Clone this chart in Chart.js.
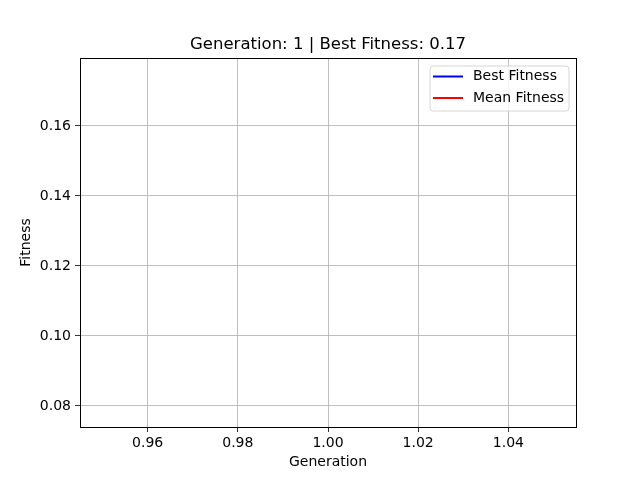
<!DOCTYPE html>
<html>
<head>
<meta charset="utf-8">
<script src="https://cdn.jsdelivr.net/npm/chart.js@4"></script>
<style>
  html, body { margin: 0; padding: 0; background: #fff; }
  #wrap { width: 640px; height: 480px; }
</style>
</head>
<body>
<div id="wrap"><canvas id="chart" width="640" height="480"></canvas></div>
<script>
// Data
const generations = [1];
const bestFitness = [0.1746];
const meanFitness = [0.0788];
const xTicks = [0.96, 0.98, 1.00, 1.02, 1.04];
const yTicks = [0.08, 0.10, 0.12, 0.14, 0.16];
const seriesLabels = ['Best Fitness', 'Mean Fitness'];
const seriesColors = ['#0000ff', '#ff0000'];

const FONT = "'DejaVu Sans', sans-serif";
const titleText = 'Generation: ' + generations[generations.length - 1] +
    ' | Best Fitness: ' + Math.max(...bestFitness).toFixed(2);

// Title over plot area, frame around it, legend box (matplotlib style)
const framePlugin = {
    id: 'frame',
    afterDraw(chart) {
        const { ctx, chartArea: a } = chart;
        ctx.save();
        ctx.strokeStyle = '#000';
        ctx.lineWidth = 1;
        ctx.strokeRect(Math.round(a.left) + 0.5, Math.round(a.top) + 0.5,
            Math.round(a.right - a.left), Math.round(a.bottom - a.top));

        // title
        ctx.fillStyle = '#000';
        ctx.font = '16.5px ' + FONT;
        ctx.textAlign = 'center';
        ctx.textBaseline = 'middle';
        ctx.fillText(titleText, (a.left + a.right) / 2, a.top - 13);

        // legend
        const w = 139, h = 45;
        const x = a.right - 7 - w, y = a.top + 8;
        ctx.globalAlpha = 0.8;
        ctx.fillStyle = '#fff';
        ctx.beginPath();
        ctx.roundRect(x, y, w, h, 3);
        ctx.fill();
        ctx.globalAlpha = 1;
        ctx.strokeStyle = '#d6d6d6';
        ctx.stroke();
        ctx.font = '14px ' + FONT;
        ctx.textAlign = 'left';
        ctx.fillStyle = '#000';
        seriesLabels.forEach((lbl, i) => {
            const ly = y + 10.5 + i * 21.5;
            ctx.strokeStyle = seriesColors[i];
            ctx.lineWidth = 2;
            ctx.beginPath();
            ctx.moveTo(x + 3, ly);
            ctx.lineTo(x + 33, ly);
            ctx.stroke();
            ctx.fillText(lbl, x + 43, ly);
        });
        ctx.restore();
    }
};

const toPoints = (ys) => generations.map((g, i) => ({ x: g, y: ys[i] }));

new Chart(document.getElementById('chart'), {
    type: 'line',
    data: {
        datasets: [{
            label: seriesLabels[0],
            data: toPoints(bestFitness),
            borderColor: seriesColors[0],
            borderWidth: 1.5,
            pointRadius: 0
        }, {
            label: seriesLabels[1],
            data: toPoints(meanFitness),
            borderColor: seriesColors[1],
            borderWidth: 1.5,
            pointRadius: 0
        }]
    },
    options: {
        responsive: false,
        animation: false,
        devicePixelRatio: 1,
        layout: { padding: { left: 14, right: 64, top: 58, bottom: 5 } },
        plugins: {
            legend: { display: false },
            tooltip: { enabled: false },
            title: { display: false }
        },
        scales: {
            x: {
                type: 'linear',
                min: 0.945,
                max: 1.055,
                afterBuildTicks: (s) => { s.ticks = xTicks.map(v => ({ value: v })); },
                afterFit: (s) => { s.height = 48; },
                ticks: {
                    color: '#000',
                    font: { family: FONT, size: 14 },
                    padding: 3,
                    maxRotation: 0,
                    callback: (v) => v.toFixed(2)
                },
                grid: { color: '#b0b0b0', lineWidth: 0.8, tickColor: '#000', tickLength: 5 },
                border: { display: false },
                title: {
                    display: true, text: 'Generation', color: '#000',
                    font: { family: FONT, size: 14 }, padding: { top: 4 }
                }
            },
            y: {
                type: 'linear',
                min: 0.074,
                max: 0.1794,
                afterBuildTicks: (s) => { s.ticks = yTicks.map(v => ({ value: v })); },
                afterFit: (s) => { s.width = 66; },
                ticks: {
                    color: '#000',
                    font: { family: FONT, size: 14 },
                    padding: 4,
                    callback: (v) => v.toFixed(2)
                },
                grid: { color: '#b0b0b0', lineWidth: 0.8, tickColor: '#000', tickLength: 5 },
                border: { display: false },
                title: {
                    display: true, text: 'Fitness', color: '#000',
                    font: { family: FONT, size: 14 }, padding: { bottom: 4 }
                }
            }
        }
    },
    plugins: [framePlugin]
});
</script>
</body>
</html>
